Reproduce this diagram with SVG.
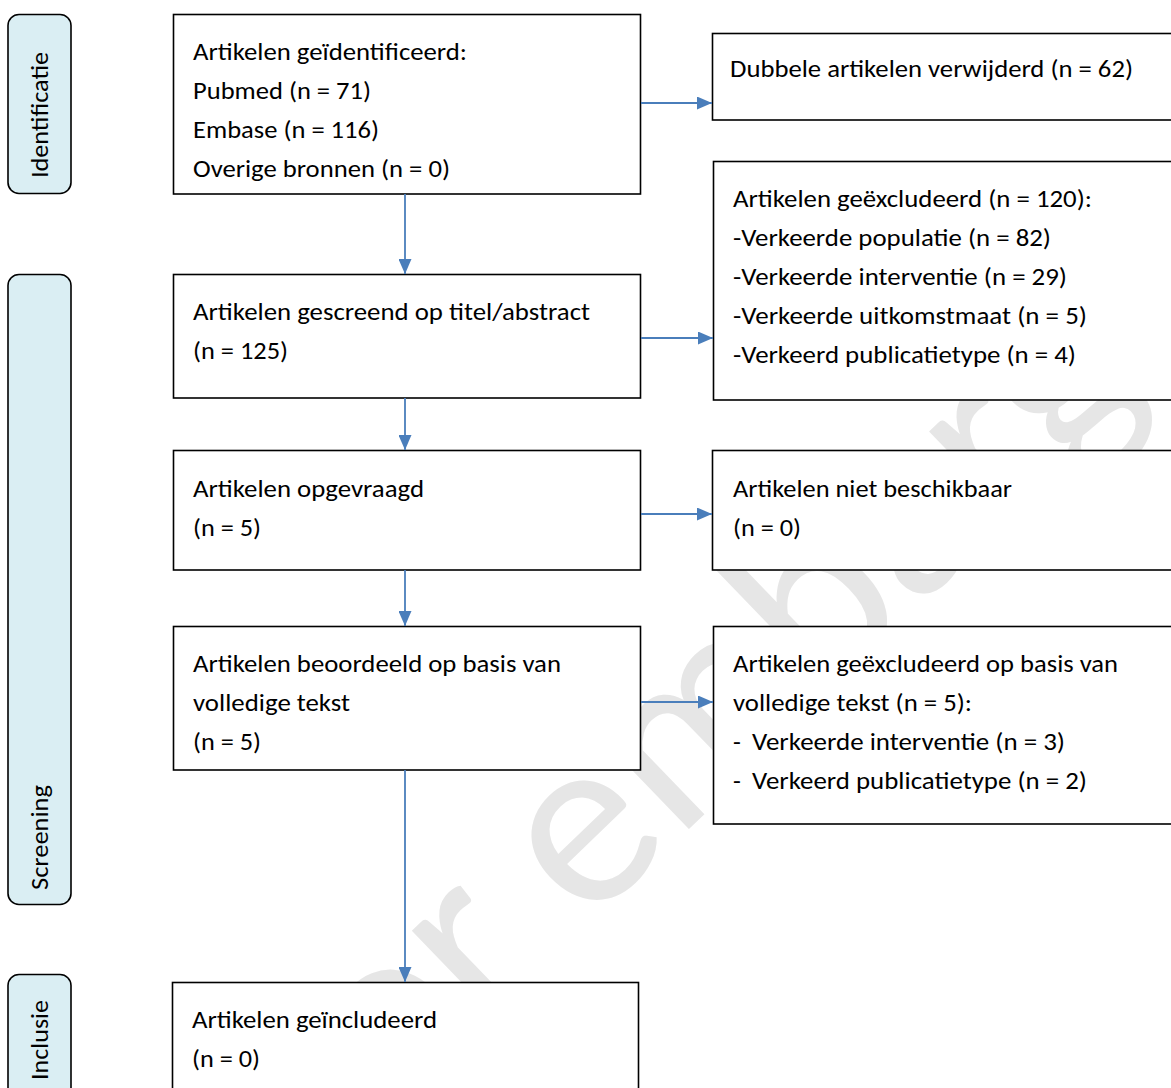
<svg xmlns="http://www.w3.org/2000/svg" width="1171" height="1088" viewBox="0 0 1171 1088">
  <defs>
    <style>
      .t { font-family: Carlito, Lato, "Liberation Sans", sans-serif; font-size: 25.5px; fill: #000; }
      .box { fill: #fff; stroke: #000; stroke-width: 1.6; }
      .side { fill: #DAEEF3; stroke: #000; stroke-width: 1.6; }
      .wm { font-family: Carlito, Lato, "Liberation Sans", sans-serif; font-size: 250px; fill: #e6e6e6; }
      .conn line { stroke: #4A7EBB; stroke-width: 1.8; marker-end: url(#ah); }
    </style>
    <marker id="ah" viewBox="0 0 15 13" refX="15" refY="6.5" markerWidth="15" markerHeight="13" markerUnits="userSpaceOnUse" orient="auto">
      <path d="M0,0 L15,6.5 L0,13 z" fill="#4A7EBB"/>
    </marker>
  </defs>
  <rect width="1171" height="1088" fill="#fff"/>

  <g id="watermark">
    <text class="wm" transform="translate(655 862) rotate(-44)" x="-613" y="0">voor embargo</text>
  </g>

  <g id="side-identificatie">
    <rect class="side" x="8" y="14.5" width="63" height="179" rx="11"/>
    <text class="t" transform="translate(48 178) rotate(-90)" textLength="126" lengthAdjust="spacingAndGlyphs">Identificatie</text>
  </g>
  <g id="side-screening">
    <rect class="side" x="8" y="274.5" width="63" height="630" rx="11"/>
    <text class="t" transform="translate(48 890) rotate(-90)" textLength="105" lengthAdjust="spacingAndGlyphs">Screening</text>
  </g>
  <g id="side-inclusie">
    <rect class="side" x="8" y="974.5" width="63" height="130" rx="11"/>
    <text class="t" transform="translate(48 1080) rotate(-90)" textLength="80" lengthAdjust="spacingAndGlyphs">Inclusie</text>
  </g>

  <g id="n-identified">
    <rect class="box" x="173.5" y="14.5" width="467" height="179.5"/>
    <text class="t" x="193" y="60" textLength="274" lengthAdjust="spacingAndGlyphs">Artikelen geïdentificeerd:</text>
    <text class="t" x="193" y="99" textLength="178" lengthAdjust="spacingAndGlyphs">Pubmed (n = 71)</text>
    <text class="t" x="193" y="138" textLength="186" lengthAdjust="spacingAndGlyphs">Embase (n = 116)</text>
    <text class="t" x="193" y="177" textLength="257" lengthAdjust="spacingAndGlyphs">Overige bronnen (n = 0)</text>
  </g>
  <g id="n-duplicates">
    <rect class="box" x="712.5" y="33.5" width="470" height="86.5"/>
    <text class="t" x="730" y="77" textLength="403" lengthAdjust="spacingAndGlyphs">Dubbele artikelen verwijderd (n = 62)</text>
  </g>
  <g id="n-screened">
    <rect class="box" x="173.5" y="274.5" width="467" height="123.5"/>
    <text class="t" x="193" y="320" textLength="397" lengthAdjust="spacingAndGlyphs">Artikelen gescreend op titel/abstract</text>
    <text class="t" x="193" y="359" textLength="95" lengthAdjust="spacingAndGlyphs">(n = 125)</text>
  </g>
  <g id="n-excluded1">
    <rect class="box" x="713.5" y="161.5" width="470" height="238.5"/>
    <text class="t" x="733" y="207" textLength="359" lengthAdjust="spacingAndGlyphs">Artikelen geëxcludeerd (n = 120):</text>
    <text class="t" x="733" y="246" textLength="318" lengthAdjust="spacingAndGlyphs">-Verkeerde populatie (n = 82)</text>
    <text class="t" x="733" y="285" textLength="334" lengthAdjust="spacingAndGlyphs">-Verkeerde interventie (n = 29)</text>
    <text class="t" x="733" y="324" textLength="354" lengthAdjust="spacingAndGlyphs">-Verkeerde uitkomstmaat (n = 5)</text>
    <text class="t" x="733" y="363" textLength="343" lengthAdjust="spacingAndGlyphs">-Verkeerd publicatietype (n = 4)</text>
  </g>
  <g id="n-requested">
    <rect class="box" x="173.5" y="450.5" width="467" height="119.5"/>
    <text class="t" x="193" y="497" textLength="231" lengthAdjust="spacingAndGlyphs">Artikelen opgevraagd</text>
    <text class="t" x="193" y="536" textLength="68" lengthAdjust="spacingAndGlyphs">(n = 5)</text>
  </g>
  <g id="n-unavailable">
    <rect class="box" x="712.5" y="450.5" width="470" height="119.5"/>
    <text class="t" x="733" y="497" textLength="279" lengthAdjust="spacingAndGlyphs">Artikelen niet beschikbaar</text>
    <text class="t" x="733" y="536" textLength="68" lengthAdjust="spacingAndGlyphs">(n = 0)</text>
  </g>
  <g id="n-assessed">
    <rect class="box" x="173.5" y="626.5" width="467" height="143.5"/>
    <text class="t" x="193" y="672" textLength="368" lengthAdjust="spacingAndGlyphs">Artikelen beoordeeld op basis van</text>
    <text class="t" x="193" y="711" textLength="157" lengthAdjust="spacingAndGlyphs">volledige tekst</text>
    <text class="t" x="193" y="750" textLength="68" lengthAdjust="spacingAndGlyphs">(n = 5)</text>
  </g>
  <g id="n-excluded2">
    <rect class="box" x="713.5" y="626.5" width="470" height="197.5"/>
    <text class="t" x="733" y="672" textLength="385" lengthAdjust="spacingAndGlyphs">Artikelen geëxcludeerd op basis van</text>
    <text class="t" x="733" y="711" textLength="239" lengthAdjust="spacingAndGlyphs">volledige tekst (n = 5):</text>
    <text class="t" x="733" y="750">-</text>
    <text class="t" x="752" y="750" textLength="313" lengthAdjust="spacingAndGlyphs">Verkeerde interventie (n = 3)</text>
    <text class="t" x="733" y="789">-</text>
    <text class="t" x="752" y="789" textLength="335" lengthAdjust="spacingAndGlyphs">Verkeerd publicatietype (n = 2)</text>
  </g>
  <g id="n-included">
    <rect class="box" x="172.5" y="982.5" width="466" height="120"/>
    <text class="t" x="192" y="1028" textLength="245" lengthAdjust="spacingAndGlyphs">Artikelen geïncludeerd</text>
    <text class="t" x="192" y="1067" textLength="68" lengthAdjust="spacingAndGlyphs">(n = 0)</text>
  </g>

  <g id="connectors" class="conn">
    <line x1="405" y1="194" x2="405" y2="274"/>
    <line x1="641" y1="103" x2="712" y2="103"/>
    <line x1="641" y1="338" x2="713" y2="338"/>
    <line x1="405" y1="398" x2="405" y2="450"/>
    <line x1="641" y1="514" x2="712" y2="514"/>
    <line x1="405" y1="570" x2="405" y2="626"/>
    <line x1="641" y1="702" x2="713" y2="702"/>
    <line x1="405" y1="770" x2="405" y2="982"/>
  </g>
</svg>
